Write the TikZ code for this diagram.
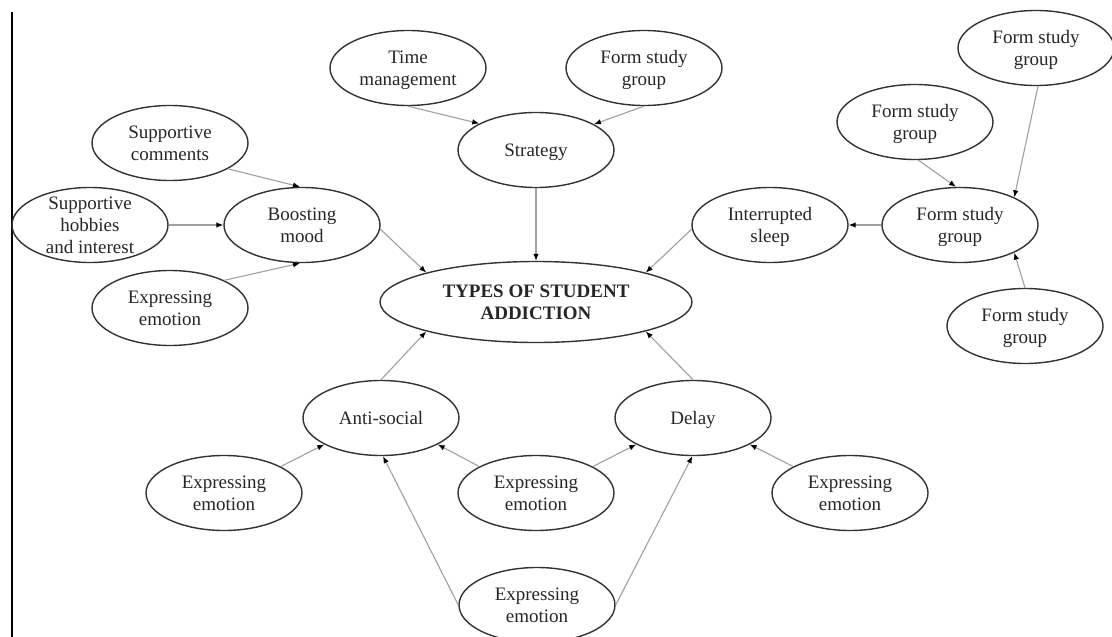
\documentclass[tikz,border=0pt]{standalone}
\usepackage{fontspec}
\setmainfont{Liberation Serif}
\usetikzlibrary{shapes.geometric,arrows.meta}

\definecolor{ellcol}{HTML}{333333}
\definecolor{txtcol}{HTML}{262626}
\definecolor{lncol}{HTML}{A0A0A0}

% centred multi-line label that takes no room, so the ellipse keeps its fixed size
\newcommand\bubtext[1]{\makebox[0pt]{\raisebox{\dimexpr(\depth-\height)/2-2pt\relax}[0pt][0pt]{\begin{tabular}{@{}c@{}}#1\end{tabular}}}}

\tikzset{
  bub/.style={ellipse, draw=ellcol, line width=1.4pt, minimum width=156pt,
    minimum height=75pt, inner sep=0pt, text=txtcol,
    font=\fontsize{19}{22}\selectfont},
  bigbub/.style={bub, minimum width=312pt, minimum height=81pt,
    font=\fontsize{19}{22}\selectfont\bfseries},
  link/.style={draw=lncol, line width=1.1pt,
    -{Latex[length=7pt,width=5.5pt,color=black]}},
}

\begin{document}
\begin{tikzpicture}[x=1pt,y=-1pt]
\useasboundingbox (0,0) rectangle (1112,637);
\clip (0,0) rectangle (1112,637);

% page rule on the left
\draw[black, line width=2pt] (12,12) -- (12,637);

% central topic
\node[bigbub] (types) at (536,302) {\bubtext{TYPES OF STUDENT\\ADDICTION}};

% strategy branch
\node[bub] (strat) at (536,150) {\bubtext{Strategy}};
\node[bub] (tm)    at (408,68)  {\bubtext{Time\\management}};
\node[bub] (fsA)   at (644,68)  {\bubtext{Form study\\group}};

% mood branch
\node[bub] (bm)  at (302,225) {\bubtext{Boosting\\mood}};
\node[bub] (sc)  at (170,143) {\bubtext{Supportive\\comments}};
\node[bub] (shi) at (90,225)  {\bubtext{Supportive\\hobbies\\and interest}};
\node[bub] (eeL) at (170,308) {\bubtext{Expressing\\emotion}};

% sleep branch
\node[bub] (isl) at (770,225)  {\bubtext{Interrupted\\sleep}};
\node[bub] (fsH) at (960,225)  {\bubtext{Form study\\group}};
\node[bub] (fsB) at (915,122)  {\bubtext{Form study\\group}};
\node[bub] (fsC) at (1036,48)  {\bubtext{Form study\\group}};
\node[bub] (fsD) at (1025,326) {\bubtext{Form study\\group}};

% lower branches
\node[bub] (anti)  at (381,418) {\bubtext{Anti-social}};
\node[bub] (delay) at (693,418) {\bubtext{Delay}};
\node[bub] (eeBL)  at (224,493) {\bubtext{Expressing\\emotion}};
\node[bub] (eeBM)  at (536,493) {\bubtext{Expressing\\emotion}};
\node[bub] (eeBR)  at (850,493) {\bubtext{Expressing\\emotion}};
\node[bub] (eeB)   at (537,605) {\bubtext{Expressing\\emotion}};

% connectors
\draw[link] (tm.south) -- (strat.155);
\draw[link] (fsA.south) -- (strat.24);
\draw[link] (strat.south) -- (types.north);
\draw[link] (sc.-24) -- (bm.93);
\draw[link] (shi.east) -- (bm.west);
\draw[link] (eeL.27) -- (bm.-93);
\draw[link] (bm.-3) -- (types.165);
\draw[link] (isl.183) -- (types.15);
\draw[link] (fsH.west) -- (isl.east);
\draw[link] (fsB.-85) -- (fsH.96);
\draw[link] (fsC.-87) -- (fsH.27);
\draw[link] (fsD.north) -- (fsH.-27);
\draw[link] (anti.north) -- (types.195);
\draw[link] (delay.north) -- (types.345);
\draw[link] (eeBL.25) -- (anti.205);
\draw[link] (eeBM.155) -- (anti.-25);
\draw[link] (eeBM.25) -- (delay.205);
\draw[link] (eeB.west) -- (anti.-87);
\draw[link] (eeB.east) -- (delay.-91);
\draw[link] (eeBR.155) -- (delay.-25);
\end{tikzpicture}
\end{document}
